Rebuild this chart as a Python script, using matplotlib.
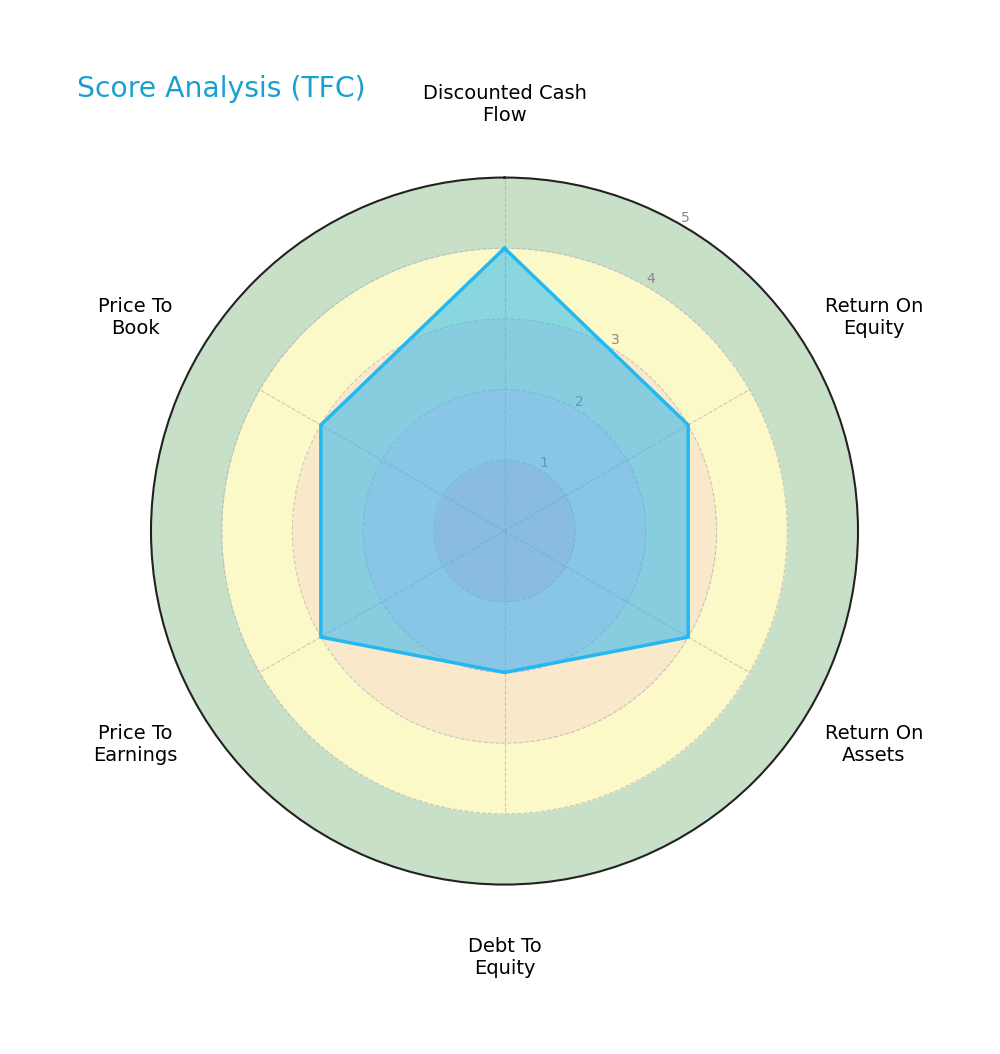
import numpy as np
import matplotlib
matplotlib.use('Agg')
import matplotlib.pyplot as plt

# ---------------- data ----------------
categories = ['Discounted Cash\nFlow', 'Return On\nEquity', 'Return On\nAssets',
              'Debt To\nEquity', 'Price To\nEarnings', 'Price To\nBook']
scores = [4, 3, 3, 2, 3, 3]
ring_levels = [1, 2, 3, 4, 5]
ring_colors = ['#fbc6c9', '#fbd9d8', '#f9e8c9', '#fcf9c8', '#c8e0c8']
title = 'Score Analysis (TFC)'

n = len(categories)
angles = np.linspace(0, 2 * np.pi, n, endpoint=False)
closed_angles = np.append(angles, angles[0])
closed_scores = scores + scores[:1]

fig = plt.figure(figsize=(10, 10.54), dpi=100)
ax = fig.add_axes([0.151, 0.1603, 0.707, 0.6717], projection='polar')
ax.set_theta_offset(np.pi / 2)
ax.set_theta_direction(-1)

# background score bands (outer band sits over the spokes)
full = np.linspace(0, 2 * np.pi, 400)
lower = 0
for i, (lvl, col) in enumerate(zip(ring_levels, ring_colors)):
    z = 0.9 if i == len(ring_levels) - 1 else 0
    ax.fill_between(full, lower, lvl, color=col, zorder=z, linewidth=0)
    lower = lvl

# seam of the outer band at the top spoke
ax.plot([angles[0], angles[0]], [ring_levels[-2], ring_levels[-1]],
        color='#aaaaaa', linestyle='--', linewidth=0.8, alpha=0.6, zorder=1)

# score polygon
ax.fill(closed_angles, closed_scores, color='#18b4f5', alpha=0.5, zorder=2)
ax.plot(closed_angles, closed_scores, color='#24b8f2', linewidth=2.5, zorder=3)

ax.set_ylim(0, 5)
ax.set_yticks(ring_levels)
ax.set_yticklabels([str(v) for v in ring_levels], fontsize=10, color='#888888')
ax.set_rlabel_position(30)
ax.set_xticks(angles)
ax.set_xticklabels([])
ax.grid(True, color='#aaaaaa', linestyle='--', linewidth=0.8, alpha=0.6)
ax.xaxis.set_zorder(0.5)
ax.yaxis.set_zorder(1.5)
ax.spines['polar'].set_color('#222222')
ax.spines['polar'].set_linewidth(1.5)

for ang, lab in zip(angles, categories):
    ax.text(ang, 6.03, lab, ha='center', va='center', fontsize=14,
            color='black', clip_on=False)

fig.text(0.077, 0.9156, title, fontsize=20.3, color='#1a9fd0', ha='left', va='center')

plt.savefig('out.png', dpi=100)
plt.close()
